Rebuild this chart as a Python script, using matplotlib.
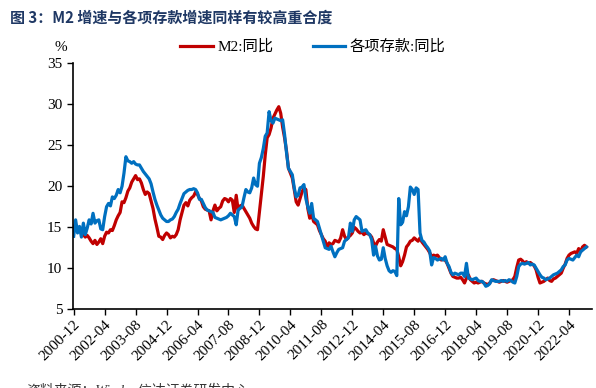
import matplotlib
matplotlib.use("Agg")
import matplotlib.pyplot as plt
import numpy as np
import pandas as pd

plt.rcParams['font.family'] = ['Liberation Serif', 'Noto Sans CJK SC', 'DejaVu Sans']

# monthly YoY growth, %, from 2000-12 to 2023-01
m2_2000 = [14.9]
m2_yearly = [
    [15.3, 14.9, 14.6, 14.8, 14.1, 13.8, 14.0, 13.7, 13.3, 13.0, 13.4, 12.9],  # 2001
    [13.2, 13.6, 13.0, 13.9, 14.4, 14.3, 14.7, 14.6, 15.2, 15.9, 16.4, 16.8],  # 2002
    [18.1, 18.0, 18.6, 19.4, 19.8, 20.5, 20.9, 21.3, 20.8, 20.9, 20.4, 19.6],  # 2003
    [19.0, 19.3, 19.1, 18.2, 17.3, 16.0, 15.0, 13.9, 13.8, 13.5, 14.0, 14.3],  # 2004
    [14.1, 13.7, 13.9, 13.8, 14.1, 14.7, 15.9, 16.8, 17.7, 18.0, 17.6, 18.3],  # 2005
    [18.6, 18.8, 19.3, 19.0, 18.5, 18.2, 17.5, 17.2, 17.1, 17.0, 15.9, 17.0],  # 2006
    [17.7, 17.0, 17.3, 17.5, 18.2, 18.5, 18.4, 18.1, 18.5, 18.3, 16.8, 18.9],  # 2007
    [17.1, 17.6, 17.7, 17.3, 16.9, 16.5, 16.1, 15.5, 15.1, 14.8, 14.7, 16.9],  # 2008
    [19.0, 21.2, 23.8, 25.9, 26.3, 27.1, 28.3, 28.8, 29.3, 29.7, 28.9, 27.2],  # 2009
    [25.9, 24.3, 22.2, 21.6, 21.0, 19.6, 18.1, 17.7, 18.5, 19.3, 19.8, 19.6],  # 2010
    [17.3, 16.1, 16.6, 15.7, 15.5, 15.3, 14.6, 14.1, 13.6, 13.3, 12.5, 13.1],  # 2011
    [12.9, 13.0, 13.4, 13.3, 13.2, 13.7, 14.7, 13.9, 13.5, 13.8, 14.0, 14.3],  # 2012
    [15.0, 14.8, 14.5, 14.3, 14.4, 14.1, 14.3, 14.2, 14.1, 13.8, 13.1, 12.7],  # 2013
    [13.2, 13.5, 13.3, 14.7, 13.8, 12.9, 12.8, 12.7, 12.6, 12.4, 12.3, 11.4],  # 2014
    [10.3, 10.8, 11.6, 12.6, 12.9, 13.3, 13.4, 13.7, 13.5, 13.3, 13.7, 13.2],  # 2015
    [12.9, 12.6, 12.3, 11.9, 11.4, 11.6, 11.5, 11.6, 11.3, 11.0, 11.1, 11.0],  # 2016
    [10.6, 10.0, 9.4, 9.0, 8.9, 8.8, 8.8, 8.9, 8.6, 8.2, 8.8, 9.2],  # 2017
    [8.6, 8.4, 8.2, 8.3, 8.2, 8.3, 8.4, 8.2, 8.1, 8.0, 8.2, 8.5],  # 2018
    [8.6, 8.5, 8.4, 8.3, 8.4, 8.5, 8.4, 8.3, 8.4, 8.5, 8.6, 9.0],  # 2019
    [10.1, 11.0, 11.1, 10.9, 10.6, 10.8, 10.6, 10.7, 10.5, 10.3, 9.8, 8.9],  # 2020
    [8.2, 8.3, 8.4, 8.6, 8.8, 8.5, 8.4, 8.7, 8.8, 9.0, 9.2, 9.4],  # 2021
    [10.0, 10.5, 11.2, 11.6, 11.8, 11.9, 12.0, 11.8, 12.4, 12.0, 12.6, 12.8],  # 2022
]
m2_2023 = [12.6]

dep_2000 = [13.9]
dep_yearly = [
    [15.9, 14.3, 15.1, 13.8, 15.5, 14.1, 14.9, 15.9, 15.4, 16.7, 15.5, 15.8],  # 2001
    [15.9, 14.8, 14.7, 16.3, 17.5, 17.9, 17.6, 18.7, 18.5, 18.9, 19.6, 19.2],  # 2002
    [20.0, 21.6, 23.6, 23.1, 23.0, 22.8, 23.0, 22.7, 22.6, 22.6, 22.2, 21.8],  # 2003
    [21.5, 21.2, 20.9, 20.3, 19.3, 18.4, 17.7, 17.1, 16.5, 16.1, 15.9, 15.7],  # 2004
    [15.7, 15.9, 16.0, 16.3, 16.8, 17.2, 17.9, 18.5, 19.1, 19.3, 19.5, 19.6],  # 2005
    [19.6, 19.7, 19.6, 19.2, 18.4, 18.4, 17.9, 17.4, 17.1, 17.0, 16.9, 16.8],  # 2006
    [16.2, 16.1, 16.0, 15.9, 16.0, 16.1, 16.2, 16.4, 16.7, 16.5, 16.3, 15.3],  # 2007
    [17.1, 17.3, 17.5, 18.6, 19.6, 19.3, 19.2, 19.8, 21.0, 20.2, 20.0, 22.8],  # 2008
    [23.5, 24.6, 26.1, 26.5, 29.1, 28.0, 27.7, 28.3, 28.2, 28.1, 28.0, 28.1],  # 2009
    [26.3, 24.1, 22.2, 21.8, 21.4, 19.8, 18.7, 18.9, 19.8, 19.9, 20.2, 18.5],  # 2010
    [17.5, 16.7, 17.9, 16.1, 15.9, 15.7, 14.9, 14.1, 13.3, 12.5, 12.4, 12.3],  # 2011
    [12.7, 12.0, 11.4, 11.9, 12.3, 12.4, 12.5, 13.3, 13.5, 13.7, 15.5, 14.5],  # 2012
    [15.9, 16.3, 16.1, 15.9, 14.5, 14.6, 14.7, 14.3, 14.1, 13.5, 11.6, 12.7],  # 2013
    [11.5, 11.0, 11.1, 12.5, 11.2, 10.3, 9.7, 9.5, 9.7, 9.6, 9.1, 18.5],  # 2014
    [15.3, 15.6, 16.9, 16.4, 17.5, 19.9, 19.6, 19.0, 19.8, 19.6, 14.3, 13.4],  # 2015
    [13.2, 12.8, 12.5, 12.1, 10.4, 11.3, 11.2, 11.0, 11.1, 11.2, 11.0, 11.4],  # 2016
    [10.6, 10.2, 9.5, 9.2, 9.4, 9.3, 9.2, 9.4, 9.4, 9.0, 10.6, 8.8],  # 2017
    [8.7, 8.6, 8.7, 8.8, 8.5, 8.4, 8.4, 8.2, 7.8, 7.9, 8.1, 8.6],  # 2018
    [8.5, 8.4, 8.4, 8.4, 8.5, 8.4, 8.5, 8.4, 8.6, 8.5, 8.3, 8.2],  # 2019
    [9.0, 10.2, 10.5, 10.6, 10.5, 10.6, 10.7, 10.4, 10.5, 10.4, 10.0, 9.6],  # 2020
    [9.2, 8.9, 8.8, 8.6, 8.7, 8.8, 9.0, 9.2, 9.3, 9.4, 9.6, 9.8],  # 2021
    [10.2, 10.4, 11.0, 11.2, 11.1, 11.0, 11.3, 11.6, 11.4, 12.0, 12.2, 12.4],  # 2022
]
dep_2023 = [12.6]

m2 = m2_2000 + [v for row in m2_yearly for v in row] + m2_2023
dep = dep_2000 + [v for row in dep_yearly for v in row] + dep_2023
dates = pd.date_range('2000-12-01', periods=len(m2), freq='MS')
x = np.arange(len(m2))

fig = plt.figure(figsize=(5.96, 3.88), dpi=100)
ax = fig.add_axes([0.122, 0.203, 0.871, 0.634])

ax.plot(x, m2, color='#C00000', lw=2.3, label='M2:同比')
ax.plot(x, dep, color='#0070C0', lw=2.3, label='各项存款:同比')

ax.set_ylim(5, 35)
ax.set_yticks(range(5, 36, 5))
ax.set_xlim(-0.5, 267.8)
tick_pos = x[::16]
ax.set_xticks(tick_pos)
ax.set_xticklabels([dates[i].strftime('%Y-%m') for i in tick_pos],
                   rotation=45, ha='right', rotation_mode='anchor')
ax.tick_params(axis='both', labelsize=11, direction='out', length=4, width=1)
ax.tick_params(axis='x', pad=2)
for s in ['top', 'right']:
    ax.spines[s].set_visible(False)
for s in ['left', 'bottom']:
    ax.spines[s].set_linewidth(1.2)

fig.text(0.102, 0.868, '%', fontsize=11, ha='center')
fig.text(0.017, 0.955, '图 3：M2 增速与各项存款增速同样有较高重合度', fontsize=10.8,
         fontweight='bold', color='#1F3864', ha='left', va='center',
         family=['Noto Sans CJK SC', 'DejaVu Sans'])
fig.legend(loc='center', bbox_to_anchor=(0.525, 0.879), ncol=2, frameon=False,
           fontsize=11, handlelength=2.1, columnspacing=2.6, handletextpad=0.3)
fig.text(0.045, 0.012, '资料来源：Wind，信达证券研发中心', fontsize=10, va='top',
         color='#333333', style='italic')

fig.savefig('out.png', dpi=100)
